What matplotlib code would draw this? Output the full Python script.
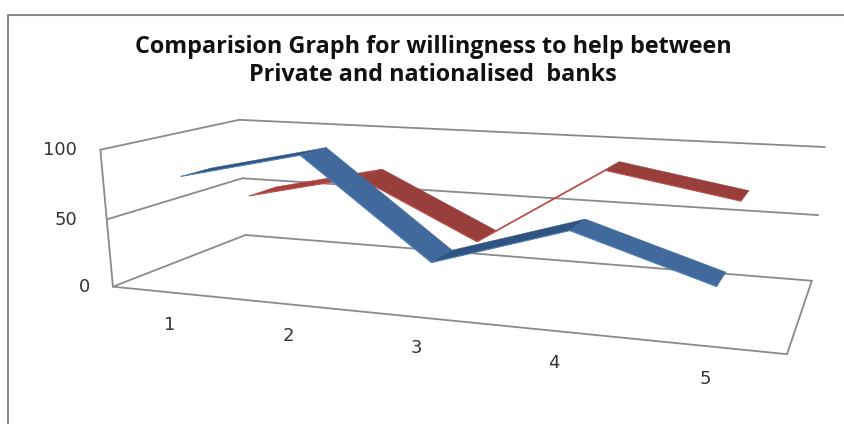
import numpy as np
import matplotlib
matplotlib.use('Agg')
import matplotlib.pyplot as plt

categories = ['1', '2', '3', '4', '5']
private = [80, 100, 32, 61, 32]
nationalised = [50, 70, 27, 86, 70]
value_ticks = [0, 50, 100]
title = 'Comparision Graph for willingness to help between\nPrivate and nationalised  banks'

# frame corners of the 3d box: (category, value, depth) -> pixel
box_world = [[0, 0, 0], [0, 0, 1], [5, 0, 1], [5, 0, 0], [0, 100, 0], [0, 100, 1],
             [5, 100, 1], [0, 50, 0], [0, 50, 1], [5, 50, 1]]
box_px = [[113, 287], [245, 235], [812, 281], [787, 354], [100, 150], [239, 120],
          [825, 147], [107, 219], [243, 178], [818, 215]]

# label anchors in pixels
cat_label_px = [(170, 325), (288, 336), (416, 348), (554, 363), (705, 379)]
val_label_px = [(90, 287), (77, 220), (77, 150)]


def fit_camera(world, px):
    A = []
    b = []
    for (x, y, z), (u, v) in zip(world, px):
        A.append([x, y, z, 1, 0, 0, 0, 0, -u * x, -u * y, -u * z])
        b.append(u)
        A.append([0, 0, 0, 0, x, y, z, 1, -v * x, -v * y, -v * z])
        b.append(v)
    s = np.linalg.lstsq(np.array(A, float), np.array(b, float), rcond=None)[0]
    return np.append(s, 1).reshape(3, 4)


P = fit_camera(box_world, box_px)


def proj(x, y, z):
    q = P @ np.array([x, y, z, 1.0])
    return q[0] / q[2], q[1] / q[2]


def box_line(ax, a, b):
    p, q = proj(*a), proj(*b)
    ax.plot([p[0], q[0]], [p[1], q[1]], color='#8a8a8a', lw=1.3, solid_capstyle='round', zorder=1)


def ribbon(ax, values, z0, z1, top, under, edge, zorder):
    for i in range(len(values) - 1):
        a = proj(i + 0.5, values[i], z0)
        b = proj(i + 1.5, values[i + 1], z0)
        c = proj(i + 1.5, values[i + 1], z1)
        d = proj(i + 0.5, values[i], z1)
        rising = values[i + 1] > values[i]
        col = under if rising else top
        ax.fill([a[0], b[0], c[0], d[0]], [a[1], b[1], c[1], d[1]], color=col, lw=0.3, zorder=zorder)
        ax.plot([a[0], b[0]], [a[1], b[1]], color=edge, lw=0.8, solid_capstyle='round', zorder=zorder + 0.1)


fig = plt.figure(figsize=(8.44, 4.24), dpi=100)
ax = fig.add_axes([0, 0, 1, 1])
ax.set_xlim(0, 844)
ax.set_ylim(424, 0)
ax.axis('off')

# chart border, cut by the image on the right and bottom
ax.plot([7.5, 7.5, 844], [424, 15, 15], color='#8a8a8a', lw=1.5, zorder=1)

# walls and floor
for v in value_ticks:
    box_line(ax, (0, v, 0), (0, v, 1))
    box_line(ax, (0, v, 1), (5, v, 1))
box_line(ax, (0, 0, 0), (0, 100, 0))
box_line(ax, (0, 0, 0), (5, 0, 0))
box_line(ax, (5, 0, 0), (5, 0, 1))

ribbon(ax, nationalised, 0.62, 0.85, '#983e3b', '#a8403d', '#c0504d', 2)
ribbon(ax, private, 0.13, 0.34, '#41699c', '#2f5480', '#4f81bd', 3)

ax.text(433, 61, title, ha='center', va='center', fontsize=16.8, fontweight='bold',
        family='Open Sans', color='#111111', linespacing=1.25)

for v, (x, y) in zip(value_ticks, val_label_px):
    ax.text(x, y, str(v), ha='right', va='center', fontsize=13, color='#333333')
for c, (x, y) in zip(categories, cat_label_px):
    ax.text(x, y, c, ha='center', va='center', fontsize=13, color='#333333')

fig.savefig('out.png', dpi=100)
